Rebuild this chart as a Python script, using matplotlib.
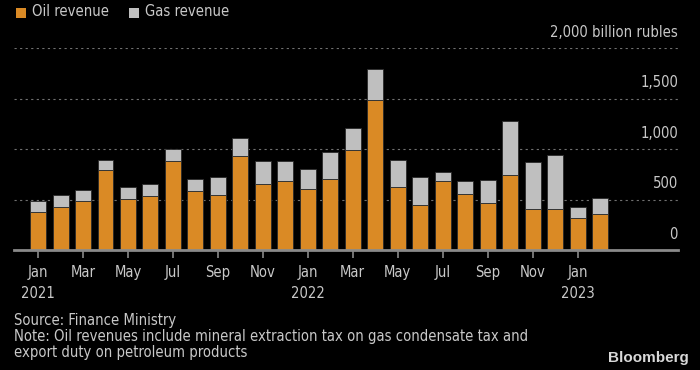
import matplotlib
matplotlib.use("Agg")
import matplotlib.pyplot as plt
from matplotlib.patches import Rectangle
import matplotlib.transforms as mtransforms

plt.rcParams['font.family'] = ['DejaVu Sans']
plt.rcParams['font.stretch'] = 'condensed'

months = ["Jan", "Feb", "Mar", "Apr", "May", "Jun", "Jul", "Aug", "Sep", "Oct", "Nov", "Dec",
          "Jan", "Feb", "Mar", "Apr", "May", "Jun", "Jul", "Aug", "Sep", "Oct", "Nov", "Dec",
          "Jan", "Feb"]
years = ["2021"] + [""] * 11 + ["2022"] + [""] * 11 + ["2023", ""]
oil = [378, 431, 487, 792, 507, 533, 878, 583, 543, 931, 656, 682,
       606, 702, 987, 1491, 626, 444, 682, 553, 467, 745, 411, 411,
       315, 358]
total = [487, 543, 593, 895, 626, 656, 997, 702, 726, 1113, 885, 885,
         802, 974, 1209, 1796, 895, 726, 775, 682, 692, 1282, 875, 941,
         424, 517]
gas = [t - o for t, o in zip(total, oil)]
ytick_vals = [0, 500, 1000, 1500]
ytick_labels = ["0", "500", "1,000", "1,500"]

OIL_C = "#DA8A25"
GAS_C = "#BFBFBF"
TXT = "#C8C8C8"
FS = 10.6

fig = plt.figure(figsize=(7, 3.7), dpi=100, facecolor="black")
ax = fig.add_axes([14/700, 1 - 250/370, (678 - 14)/700, (250 - 48.3)/370])
ax.set_facecolor("black")

x = list(range(len(months)))
ax.bar(x, oil, width=0.71, color=OIL_C, edgecolor="#2a2a2a", linewidth=0.6, zorder=3)
ax.bar(x, gas, bottom=oil, width=0.71, color=GAS_C, edgecolor="#2a2a2a", linewidth=0.6, zorder=3)

ax.set_xlim(-1.07, 28.47)
ax.set_ylim(0, 2000)

for s in ["top", "right", "left"]:
    ax.spines[s].set_visible(False)
ax.spines["bottom"].set_color("#8a8a8a")
ax.spines["bottom"].set_linewidth(2)
ax.spines["bottom"].set_zorder(4)

for v in [500, 1000, 1500, 2000]:
    ax.axhline(v, color="#707070", linestyle=(0, (2, 3)), linewidth=0.8, zorder=1)

ax.set_yticks([])
tick_x = x[::2]
ax.set_xticks(tick_x)
ax.set_xticklabels([m + ("\n" + y if y else "") for m, y in zip(months[::2], years[::2])],
                   color=TXT, fontsize=FS, linespacing=1.45, va="top")
ax.tick_params(axis="x", colors="#8a8a8a", length=6, width=1.2, pad=5, labelcolor=TXT)

offset = mtransforms.offset_copy(ax.get_yaxis_transform(), fig=fig, x=0, y=6, units="points")
for v, lab in zip(ytick_vals, ytick_labels):
    ax.text(1.0, v, lab, transform=offset, ha="right", va="bottom", color=TXT, fontsize=FS)
ax.text(1.0, 2000, "2,000 billion rubles", transform=offset, ha="right", va="bottom",
        color=TXT, fontsize=FS)

# legend
fig.patches.append(Rectangle((16/700, 1 - 18/370), 10/700, 10/370, transform=fig.transFigure,
                             facecolor=OIL_C, edgecolor="none"))
fig.text(32/700, 1 - 12/370, "Oil revenue", color=TXT, fontsize=FS, va="center", ha="left")
fig.patches.append(Rectangle((129/700, 1 - 18/370), 10/700, 10/370, transform=fig.transFigure,
                             facecolor=GAS_C, edgecolor="none"))
fig.text(145/700, 1 - 12/370, "Gas revenue", color=TXT, fontsize=FS, va="center", ha="left")

fig.text(14/700, 1 - 320/370, "Source: Finance Ministry", color=TXT, fontsize=FS, va="center")
fig.text(14/700, 1 - 337/370, "Note: Oil revenues include mineral extraction tax on gas condensate tax and",
         color=TXT, fontsize=FS, va="center")
fig.text(14/700, 1 - 353/370, "export duty on petroleum products", color=TXT, fontsize=FS, va="center")
fig.text(689/700, 1 - 358/370, "Bloomberg", color="#D8D8D8", fontsize=11, fontweight="bold",
         fontstretch="normal", ha="right", va="center", family=["Liberation Sans", "DejaVu Sans"])

fig.savefig("out.png", dpi=100, facecolor="black")
